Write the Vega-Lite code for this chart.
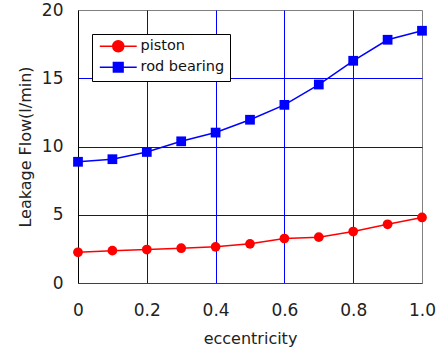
{
  "$schema": "https://vega.github.io/schema/vega-lite/v6.json",
  "width": 344,
  "height": 273,
  "autosize": "none",
  "padding": {"left": 78, "top": 10, "right": 15, "bottom": 67},
  "data": {
    "values": [
      {"ecc": 0.0, "flow": 2.25, "series": "piston"},
      {"ecc": 0.1, "flow": 2.37, "series": "piston"},
      {"ecc": 0.2, "flow": 2.45, "series": "piston"},
      {"ecc": 0.3, "flow": 2.55, "series": "piston"},
      {"ecc": 0.4, "flow": 2.65, "series": "piston"},
      {"ecc": 0.5, "flow": 2.87, "series": "piston"},
      {"ecc": 0.6, "flow": 3.26, "series": "piston"},
      {"ecc": 0.7, "flow": 3.36, "series": "piston"},
      {"ecc": 0.8, "flow": 3.77, "series": "piston"},
      {"ecc": 0.9, "flow": 4.3, "series": "piston"},
      {"ecc": 1.0, "flow": 4.8, "series": "piston"},
      {"ecc": 0.0, "flow": 8.88, "series": "rod bearing"},
      {"ecc": 0.1, "flow": 9.07, "series": "rod bearing"},
      {"ecc": 0.2, "flow": 9.6, "series": "rod bearing"},
      {"ecc": 0.3, "flow": 10.38, "series": "rod bearing"},
      {"ecc": 0.4, "flow": 11.02, "series": "rod bearing"},
      {"ecc": 0.5, "flow": 11.96, "series": "rod bearing"},
      {"ecc": 0.6, "flow": 13.05, "series": "rod bearing"},
      {"ecc": 0.7, "flow": 14.54, "series": "rod bearing"},
      {"ecc": 0.8, "flow": 16.28, "series": "rod bearing"},
      {"ecc": 0.9, "flow": 17.82, "series": "rod bearing"},
      {"ecc": 1.0, "flow": 18.48, "series": "rod bearing"}
    ]
  },
  "encoding": {
    "x": {
      "field": "ecc",
      "type": "quantitative",
      "scale": {"domain": [0, 1], "nice": false, "zero": false},
      "axis": {
        "title": "eccentricity",
        "values": [0, 0.2, 0.4, 0.6, 0.8, 1.0],
        "labelExpr": "datum.value == 0 ? '0' : format(datum.value, '.1f')",
        "labelFlush": false,
        "domainColor": "#404040",
        "labelPadding": 19,
        "titlePadding": 12,
        "gridColor": {"condition": {"test": "datum.value == 0 || datum.value == 1", "value": "transparent"}, "value": "#0000ff"}
      }
    },
    "y": {
      "field": "flow",
      "type": "quantitative",
      "scale": {"domain": [0, 20], "nice": false},
      "axis": {
        "title": "Leakage Flow(l/min)",
        "values": [0, 5, 10, 15, 20],
        "labelFlush": false,
        "domainColor": "#000000",
        "labelPadding": 15,
        "titlePadding": 8,
        "gridColor": {"condition": {"test": "datum.value == 0 || datum.value == 20", "value": "transparent"}, "value": "#0000ff"}
      }
    },
    "color": {
      "field": "series",
      "type": "nominal",
      "scale": {"domain": ["piston", "rod bearing"], "range": ["#ff0000", "#0000ff"]},
      "legend": {
        "title": null,
        "orient": "none",
        "legendX": 14,
        "legendY": 24,
        "fillColor": "#ffffff",
        "strokeColor": "#000000",
        "padding": 5,
        "symbolSize": 121,
        "symbolOffset": 14,
        "labelOffset": 15,
        "rowPadding": 4,
        "labelFont": "DejaVu Sans",
        "labelFontSize": 14.5,
        "labelColor": "#111111",
        "encode": {
          "symbols": {
            "update": {
              "shape": {"signal": "datum.value === 'piston' ? 'M-3.36,0H3.36M-1,0A1,1 0 1 1 1,0A1,1 0 1 1 -1,0Z' : 'M-3.36,0H3.36M-0.88,-0.88H0.88V0.88H-0.88Z'"},
              "fill": {"signal": "datum.value === 'piston' ? '#ff0000' : '#0000ff'"},
              "stroke": {"signal": "datum.value === 'piston' ? '#ff0000' : '#0000ff'"},
              "strokeWidth": {"value": 1.5},
              "opacity": {"value": 1}
            }
          }
        }
      }
    }
  },
  "layer": [
    {"mark": {"type": "line", "strokeWidth": 1.5}},
    {
      "transform": [{"filter": "datum.series === 'piston'"}],
      "mark": {"type": "point", "shape": "circle", "filled": true, "opacity": 1, "size": 95}
    },
    {
      "transform": [{"filter": "datum.series === 'rod bearing'"}],
      "mark": {"type": "point", "shape": "square", "filled": true, "opacity": 1, "size": 95}
    }
  ],
  "config": {
    "view": {"stroke": "#808080", "strokeWidth": 1},
    "axis": {
      "labelFont": "DejaVu Sans",
      "labelFontSize": 17,
      "labelColor": "#222222",
      "titleFont": "DejaVu Sans",
      "titleFontSize": 16,
      "titleFontWeight": "normal",
      "titleColor": "#222222",
      "ticks": false,
      "gridWidth": 1,
      "gridOpacity": 1
    }
  }
}
